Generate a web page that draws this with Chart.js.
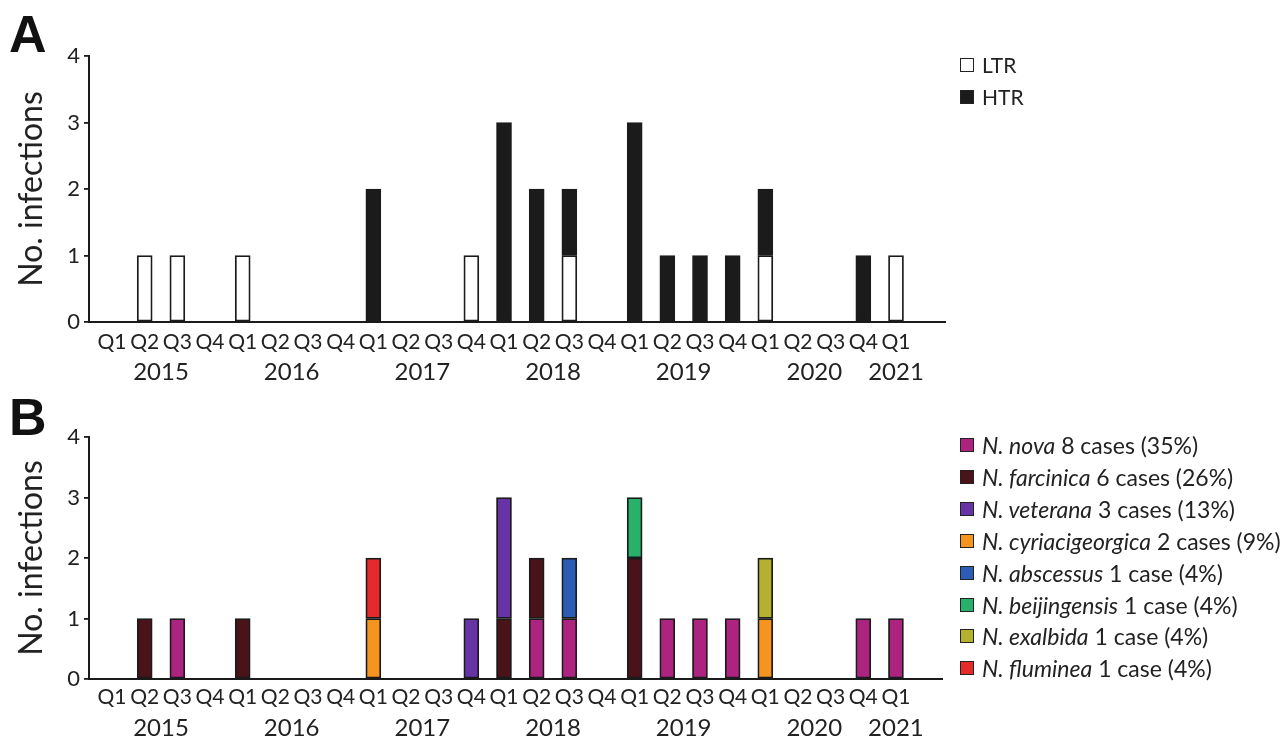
<!DOCTYPE html>
<html>
<head>
<meta charset="utf-8">
<script src="https://cdn.jsdelivr.net/npm/chart.js@4.4.1/dist/chart.umd.min.js"></script>
<style>
  html, body { margin: 0; padding: 0; background: #fff; }
  body { width: 1285px; height: 738px; position: relative; overflow: hidden; font-family: Lato, "Open Sans", sans-serif; color: #222; }
  .panel { position: absolute; left: 0; width: 1285px; }
  .letter { position: absolute; font-family: "Liberation Sans", Arial, sans-serif; font-weight: bold; font-size: 52px; line-height: 52px; color: #111; }
  .legend { position: absolute; }
  .legend .row { position: absolute; left: 0; white-space: nowrap; height: 22px; }
  .legend .box { position: absolute; left: 0; width: 12px; height: 12px; border: 1.5px solid #222; }
  .legend .txt { position: absolute; left: 22px; top: 0; line-height: 22px; }
  #legendA { font-size: 21px; }
  #legendB { font-size: 23px; }
  #legendA .box { top: 4px; }
  #legendB .box { top: 4px; }
</style>
</head>
<body>
<div class="letter" style="left:9px;top:8px;">A</div>
<div class="letter" style="left:9px;top:391px;">B</div>
<div class="panel" style="top:0;height:390px;"><canvas id="chartA" width="1285" height="390"></canvas></div>
<div class="panel" style="top:390px;height:348px;"><canvas id="chartB" width="1285" height="348"></canvas></div>
<div class="legend" id="legendA" style="left:960px;top:54px;"></div>
<div class="legend" id="legendB" style="left:960px;top:434px;"></div>
<script>
// Quarter ticks, 2015 Q1 .. 2021 Q1
const quarterLabels = ['Q1','Q2','Q3','Q4','Q1','Q2','Q3','Q4','Q1','Q2','Q3','Q4',
                       'Q1','Q2','Q3','Q4','Q1','Q2','Q3','Q4','Q1','Q2','Q3','Q4','Q1'];
const years = ['2015','2016','2017','2018','2019','2020','2021'];
const quartersPerYear = [4, 4, 4, 4, 4, 4, 1];

// Panel A: transplant recipient groups
const ltrCases = [0,1,1,0, 1,0,0,0, 0,0,0,1, 0,0,1,0, 0,0,0,0, 1,0,0,0, 1];
const htrCases = [0,0,0,0, 0,0,0,0, 2,0,0,0, 3,2,1,0, 3,1,1,1, 1,0,0,1, 0];

// Panel B: species
const speciesNames = ['N. nova','N. farcinica','N. veterana','N. cyriacigeorgica',
                      'N. abscessus','N. beijingensis','N. exalbida','N. fluminea'];
const novaCases            = [0,0,1,0, 0,0,0,0, 0,0,0,0, 0,1,1,0, 0,1,1,1, 0,0,0,1, 1];
const farcinicaCases       = [0,1,0,0, 1,0,0,0, 0,0,0,0, 1,1,0,0, 2,0,0,0, 0,0,0,0, 0];
const veteranaCases        = [0,0,0,0, 0,0,0,0, 0,0,0,1, 2,0,0,0, 0,0,0,0, 0,0,0,0, 0];
const cyriacigeorgicaCases = [0,0,0,0, 0,0,0,0, 1,0,0,0, 0,0,0,0, 0,0,0,0, 1,0,0,0, 0];
const abscessusCases       = [0,0,0,0, 0,0,0,0, 0,0,0,0, 0,0,1,0, 0,0,0,0, 0,0,0,0, 0];
const beijingensisCases    = [0,0,0,0, 0,0,0,0, 0,0,0,0, 0,0,0,0, 1,0,0,0, 0,0,0,0, 0];
const exalbidaCases        = [0,0,0,0, 0,0,0,0, 0,0,0,0, 0,0,0,0, 0,0,0,0, 1,0,0,0, 0];
const flumineaCases        = [0,0,0,0, 0,0,0,0, 1,0,0,0, 0,0,0,0, 0,0,0,0, 0,0,0,0, 0];

const speciesSeries = [novaCases, farcinicaCases, veteranaCases, cyriacigeorgicaCases,
                       abscessusCases, beijingensisCases, exalbidaCases, flumineaCases];
const speciesColors = ['#ad2380','#4a1219','#6634a6','#f5951f','#2c5db5','#29b06b','#b3b12d','#e42a2a'];

const INK = '#1b1b1b';
const TEXT = '#222';
const FONT = 'Lato, "Open Sans", sans-serif';

// centre of each year's run of quarters, in quarter-index units
const yearCenters = [];
{
  let start = 0;
  quartersPerYear.forEach(n => { yearCenters.push(start + (n - 1) / 2); start += n; });
}

const toPoints = arr => arr.map((v, i) => ({ x: i, y: v > 0 ? v : null }));

function buildOptions(cfg) {
  return {
    responsive: false,
    animation: false,
    devicePixelRatio: 1,
    layout: { padding: { top: cfg.top, right: cfg.right, bottom: 0, left: 0 } },
    plugins: { legend: { display: false }, tooltip: { enabled: false } },
    datasets: { bar: { barThickness: 15, borderWidth: 1.8, borderColor: INK, borderSkipped: false } },
    scales: {
      x: {
        type: 'linear', stacked: true, position: 'bottom', weight: 0, offset: false,
        min: -0.705, max: cfg.xMax, bounds: 'data',
        grid: { display: false, drawTicks: false, offset: false },
        border: { display: true, color: INK, width: 2 },
        afterBuildTicks: axis => { axis.ticks = quarterLabels.map((_, i) => ({ value: i })); },
        afterFit: axis => { axis.height = cfg.qHeight; },
        ticks: {
          autoSkip: false, maxRotation: 0, padding: cfg.qPad, color: TEXT,
          font: { family: FONT, size: 21 },
          callback: v => quarterLabels[v]
        }
      },
      years: {
        type: 'linear', position: 'bottom', weight: 1, offset: false,
        min: -0.705, max: cfg.xMax, bounds: 'data',
        grid: { display: false, drawTicks: false, offset: false },
        border: { display: false },
        afterBuildTicks: axis => { axis.ticks = yearCenters.map(v => ({ value: v })); },
        afterFit: axis => { axis.height = cfg.yHeight; },
        ticks: {
          autoSkip: false, maxRotation: 0, padding: cfg.yPad, color: TEXT,
          font: { family: FONT, size: 24 },
          callback: (v, i) => years[i]
        }
      },
      y: {
        stacked: true, min: 0, max: 4,
        afterFit: axis => { axis.width = 89; },
        grid: { display: true, drawOnChartArea: false, drawTicks: true, tickLength: 5, color: INK, lineWidth: 1.8 },
        border: { display: true, color: INK, width: 2 },
        ticks: { stepSize: 1, padding: 4, color: TEXT, font: { family: FONT, size: 22 } },
        title: {
          display: true, text: 'No. infections', color: TEXT,
          font: { family: FONT, size: 32 }, padding: { top: 12, bottom: 0 }
        }
      }
    }
  };
}

new Chart(document.getElementById('chartA'), {
  type: 'bar',
  data: {
    datasets: [
      { label: 'LTR', data: toPoints(ltrCases), backgroundColor: '#ffffff' },
      { label: 'HTR', data: toPoints(htrCases), backgroundColor: INK }
    ]
  },
  options: buildOptions({ top: 56, right: 340, xMax: 25.5, qHeight: 34, qPad: 8, yHeight: 34, yPad: 2 })
});

new Chart(document.getElementById('chartB'), {
  type: 'bar',
  data: {
    datasets: speciesNames.map((name, k) => ({
      label: name, data: toPoints(speciesSeries[k]), backgroundColor: speciesColors[k]
    }))
  },
  options: buildOptions({ top: 47, right: 343, xMax: 25.41, qHeight: 31, qPad: 6, yHeight: 28, yPad: 4 })
});

// Legends
function addRow(container, y, color, html) {
  const row = document.createElement('div');
  row.className = 'row';
  row.style.top = y + 'px';
  const box = document.createElement('span');
  box.className = 'box';
  box.style.background = color;
  const txt = document.createElement('span');
  txt.className = 'txt';
  txt.innerHTML = html;
  row.appendChild(box);
  row.appendChild(txt);
  container.appendChild(row);
}

const legendA = document.getElementById('legendA');
addRow(legendA, 0, '#ffffff', 'LTR');
addRow(legendA, 32, INK, 'HTR');

const legendB = document.getElementById('legendB');
const totalCases = speciesSeries.reduce((s, arr) => s + arr.reduce((a, b) => a + b, 0), 0);
speciesNames.forEach((name, k) => {
  const n = speciesSeries[k].reduce((a, b) => a + b, 0);
  const pct = Math.round(n / totalCases * 100);
  addRow(legendB, k * 31.9, speciesColors[k],
    '<i>' + name + '</i> ' + n + (n === 1 ? ' case' : ' cases') + ' (' + pct + '%)');
});
</script>
</body>
</html>
